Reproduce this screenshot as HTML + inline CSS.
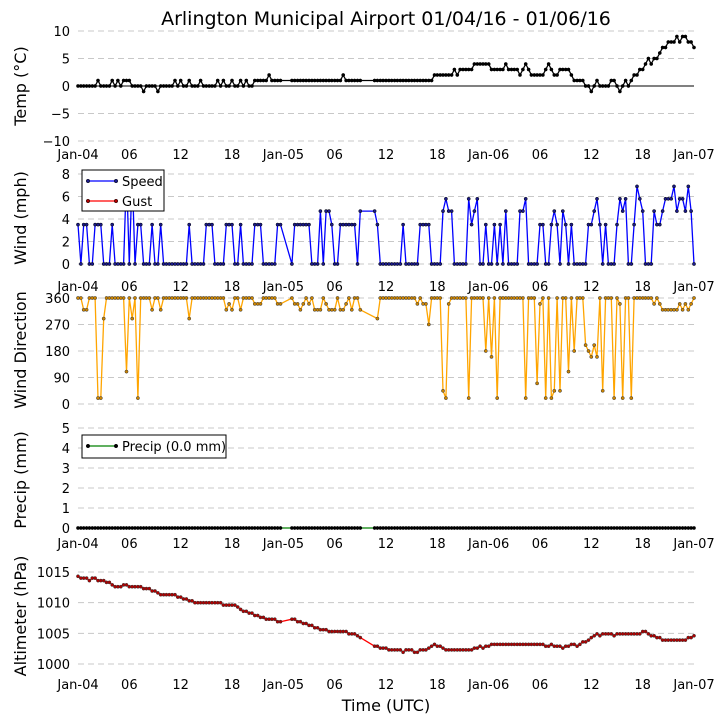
<!DOCTYPE html>
<html><head><meta charset="utf-8">
<style>
body{margin:0;background:#fff;}
svg{display:block;font-family:"DejaVu Sans","Liberation Sans",sans-serif;}
</style></head>
<body>
<svg id="chart" width="723" height="725" viewBox="0 0 723 725" xmlns="http://www.w3.org/2000/svg">
<rect width="723" height="725" fill="#fff"/>
<text x="386" y="25" font-size="19" text-anchor="middle">Arlington Municipal Airport 01/04/16 - 01/06/16</text>
<text x="386" y="711" font-size="16" text-anchor="middle">Time (UTC)</text>
</svg>
<script>
// ---- data (20-minute observations; null = missing) ----
const xTickLabels = ["Jan-04","06","12","18","Jan-05","06","12","18","Jan-06","06","12","18","Jan-07"];
const tempValues = [0,0,0,0,0,0,0,1,0,0,0,0,1,0,1,0,1,1,1,0,0,0,0,-1,0,0,0,0,-1,0,
0,0,0,0,1,0,1,0,0,1,0,0,0,1,0,0,0,0,0,1,0,1,0,0,1,0,0,1,0,1,
0,0,1,1,1,1,1,2,1,1,1,1,null,null,null,1,1,1,1,1,1,1,1,1,1,1,1,1,1,1,
1,1,1,2,1,1,1,1,1,1,null,null,null,null,1,1,1,1,1,1,1,1,1,1,1,1,1,1,1,1,
1,1,1,1,1,2,2,2,2,2,2,2,3,2,3,3,3,3,3,4,4,4,4,4,4,3,3,3,3,3,
4,3,3,3,3,2,3,4,3,2,2,2,2,2,3,4,3,2,2,3,3,3,3,2,1,1,1,1,0,0,
-1,0,1,0,0,0,0,1,1,0,-1,0,1,0,1,2,2,3,3,4,5,4,5,5,6,7,7,8,8,8,
9,8,9,9,8,8,7];
const windSpeed = [3.5,0,3.5,3.5,0,0,3.5,3.5,3.5,0, 0,0,3.5,0,0,0,0,8,0,8,
0,3.5,3.5,0,0,0,3.5,0,0,3.5, 0,0,0,0,0,0,0,0,0,3.5,
0,0,0,0,0,3.5,3.5,3.5,0,0, 0,0,3.5,3.5,3.5,0,0,3.5,0,0,
0,0,3.5,3.5,3.5,0,0,0,0,0, 3.5,3.5,null,null,null,0,3.5,3.5,3.5,3.5,
3.5,3.5,0,0,0,4.7,0,4.7,4.7,3.5, 0,0,3.5,3.5,3.5,3.5,3.5,3.5,0,4.7,
null,null,null,null,4.7,3.5,0,0,0,0, 0,0,0,0,3.5,0,0,0,0,0,
3.5,3.5,3.5,3.5,0,0,0,0,4.7,5.8, 4.7,4.7,0,0,0,0,0,5.8,3.5,4.7,
5.8,0,0,3.5,0,0,3.5,0,3.5,0, 4.7,0,0,0,0,4.7,4.7,5.8,0,0,
0,0,3.5,3.5,0,0,3.5,4.7,3.5,0, 4.7,3.5,0,3.5,0,0,0,0,0,3.5,
3.5,4.7,5.8,3.5,0,3.5,0,0,0,3.5, 5.8,4.7,5.8,0,0,3.5,6.9,5.8,4.7,0,
0,0,4.7,3.5,3.5,4.7,5.8,5.8,5.8,6.9, 4.7,5.8,5.8,4.7,6.9,4.7,0];
const windDir = [360,360,320,320,360,360,360,20,20,290, 360,360,360,360,360,360,360,110,360,290,
360,20,360,360,360,360,320,360,360,320, 360,360,360,360,360,360,360,360,360,290,
360,360,360,360,360,360,360,360,360,360, 360,360,320,340,320,360,360,320,360,360,
360,360,340,340,340,360,360,360,360,360, 340,340,null,null,null,360,340,340,320,340,
360,340,360,320,320,320,360,340,320,320, 320,360,320,320,340,360,320,360,360,320,
null,null,null,null,null,290,360,360,360,360, 360,360,360,360,360,360,360,360,360,340,
360,340,340,270,360,360,360,360,45,20, 340,360,360,360,360,360,360,20,360,360,
360,360,360,180,360,160,360,20,360,360, 360,360,360,360,360,360,360,20,360,360,
360,70,340,360,20,360,20,45,360,45, 360,360,110,360,180,360,360,360,200,180,
160,200,160,360,45,360,360,360,20,360, 340,20,360,360,20,360,360,360,360,360,
360,360,340,360,340,320,320,320,320,320, 320,340,320,340,320,340,360];
const altValues = [1014.3,1014.0,1014.0,1014.0,1013.6,1014.0,1014.0,1013.6,1013.6,1013.6,
1013.3,1013.3,1012.9,1012.6,1012.6,1012.6,1012.9,1012.9,1012.6,1012.6,
1012.6,1012.6,1012.6,1012.3,1012.3,1012.3,1011.9,1011.9,1011.6,1011.3,
1011.3,1011.3,1011.3,1011.3,1011.3,1010.9,1010.9,1010.6,1010.6,1010.3,
1010.3,1010.0,1010.0,1010.0,1010.0,1010.0,1010.0,1010.0,1010.0,1010.0,
1010.0,1009.6,1009.6,1009.6,1009.6,1009.6,1009.3,1008.9,1008.6,1008.6,
1008.3,1008.3,1007.9,1007.9,1007.6,1007.6,1007.3,1007.3,1007.3,1007.3,
1006.9,1006.9,null,null,null,1007.3,1007.3,1006.9,1006.9,1006.6,
1006.6,1006.3,1006.3,1005.9,1005.9,1005.6,1005.6,1005.6,1005.3,1005.3,
1005.3,1005.3,1005.3,1005.3,1005.3,1004.9,1004.9,1004.9,1004.6,1004.3,
null,null,null,null,1002.9,1002.9,1002.6,1002.6,1002.6,1002.3,
1002.3,1002.3,1002.3,1002.3,1001.9,1002.3,1002.3,1002.3,1001.9,1001.9,
1002.3,1002.3,1002.3,1002.6,1002.9,1003.2,1002.9,1002.9,1002.6,1002.3,
1002.3,1002.3,1002.3,1002.3,1002.3,1002.3,1002.3,1002.3,1002.3,1002.6,
1002.6,1002.9,1002.6,1002.9,1002.9,1003.2,1003.2,1003.2,1003.2,1003.2,
1003.2,1003.2,1003.2,1003.2,1003.2,1003.2,1003.2,1003.2,1003.2,1003.2,
1003.2,1003.2,1003.2,1003.2,1002.9,1002.9,1003.2,1002.9,1002.9,1002.9,
1002.6,1002.9,1002.9,1003.2,1003.2,1002.9,1003.2,1003.6,1003.6,1003.9,
1004.3,1004.6,1004.9,1004.6,1004.9,1004.9,1004.9,1004.9,1004.6,1004.9,
1004.9,1004.9,1004.9,1004.9,1004.9,1004.9,1004.9,1004.9,1005.3,1005.3,
1004.9,1004.6,1004.6,1004.3,1004.3,1003.9,1003.9,1003.9,1003.9,1003.9,
1003.9,1003.9,1003.9,1003.9,1004.3,1004.3,1004.6];
const precipValues = tempValues.map(v => v === null ? null : 0.0);
const tempTicks = [10,5,0,-5,-10];
const windTicks = [0,2,4,6,8];
const dirTicks = [0,90,180,270,360];
const precipTicks = [0,1,2,3,4,5];
const altTicks = [1000,1005,1010,1015];

// ---- layout ----
const svg = document.getElementById('chart');
const NS = "http://www.w3.org/2000/svg";
const X0 = 78, X1 = 694, HOURS = 72;
function xScale(t){ return X0 + t / HOURS * (X1 - X0); }
function yLin(v0, p0, v1, p1){ return v => p0 + (v - v0) * (p1 - p0) / (v1 - v0); }
function mk(tag, attrs){ const e = document.createElementNS(NS, tag); for (const k in attrs) e.setAttribute(k, attrs[k]); svg.appendChild(e); return e; }

function panel(name, yFn, ticks, title, titleY, xLabelY){
  ticks.forEach(v => {
    const y = yFn(v);
    const g = mk('line', {x1:X0, x2:X1, y1:y, y2:y, stroke:'#c8c8c8', 'stroke-dasharray':'6,4', 'stroke-width':1});
    
    
    const t = mk('text', {x:70, y:y+5, 'font-size':13, 'text-anchor':'end'});
    t.textContent = String(v).replace('-', '\u2212');
    
    
  });
  const tt = mk('text', {x:0, y:0, 'font-size':16, 'text-anchor':'middle', transform:`translate(26,${titleY}) rotate(-90)`});
  tt.textContent = title;
  
  
  if (xLabelY){
    xTickLabels.forEach((lab, k) => {
      const t = mk('text', {x:xScale(k*6), y:xLabelY, 'font-size':13, 'text-anchor':'middle'});
      t.textContent = lab;
      
      
    });
  }
}
function series(name, vals, yFn, lineColor, dotFill, dotStroke){
  const pts = [];
  vals.forEach((v, i) => { if (v !== null) pts.push([xScale(i/3), yFn(v)]); });
  const pl = mk('polyline', {points: pts.map(p => p[0].toFixed(1)+','+p[1].toFixed(1)).join(' '), fill:'none', stroke:lineColor, 'stroke-width':1.3});
  
  
  pts.forEach(p => {
    const c = mk('circle', {cx:p[0].toFixed(1), cy:p[1].toFixed(1), r:1.6, fill:dotFill, stroke:dotStroke, 'stroke-width':0.5});
    
    
  });
}

// Temperature
const yT = yLin(10, 31, -10, 141);
panel('temp', yT, tempTicks, 'Temp (\u00b0C)', 86, 159);
const zl = mk('line', {x1:X0, x2:X1, y1:yT(0), y2:yT(0), stroke:'#000', 'stroke-width':1});


series('temp', tempValues, yT, '#000', '#000', '#000');

// Wind speed
const yW = yLin(0, 264, 8, 174);
panel('wind', yW, windTicks, 'Wind (mph)', 218, 291);
series('wind-speed', windSpeed, yW, '#0000ff', '#1a1a8a', '#000');

// Wind direction
const yD = yLin(0, 404, 360, 298);
panel('direction', yD, dirTicks, 'Wind Direction', 350, null);
series('wind-direction', windDir, yD, '#ffa500', '#cc8400', '#333');

// Precip
const yP = yLin(0, 528, 5, 428);
panel('precip', yP, precipTicks, 'Precip (mm)', 480, 548);
series('precip', precipValues, yP, '#008000', '#000', '#000');

// Altimeter
const yA = yLin(1000, 664, 1015, 572);
panel('altimeter', yA, altTicks, 'Altimeter (hPa)', 616, 689);
series('altimeter', altValues, yA, '#ff0000', '#b00000', '#333');

// Legends
function legend(name, x, y, w, h, entries){
  const r = mk('rect', {x:x, y:y, width:w, height:h, fill:'#fff', stroke:'#000', 'stroke-width':1});
  
  
  entries.forEach((e, k) => {
    const cy = y + 11 + k*20;
    const l = mk('line', {x1:x+6, x2:x+34, y1:cy, y2:cy, stroke:e.color, 'stroke-width':1.3});
    
    
    [x+6, x+34].forEach(cx => {
      const c = mk('circle', {cx:cx, cy:cy, r:1.8, fill:e.dot, stroke:'#000', 'stroke-width':0.5});
      
      
    });
    const t = mk('text', {x:x+40, y:cy+5, 'font-size':13});
    t.textContent = e.label;
    
    
  });
}
legend('wind-legend', 82, 170, 82, 41, [{label:'Speed', color:'#0000ff', dot:'#1a1a8a'}, {label:'Gust', color:'#ff0000', dot:'#b00000'}]);
legend('precip-legend', 82, 435, 144, 23, [{label:'Precip (0.0 mm)', color:'#008000', dot:'#000'}]);
</script>
</body></html>
